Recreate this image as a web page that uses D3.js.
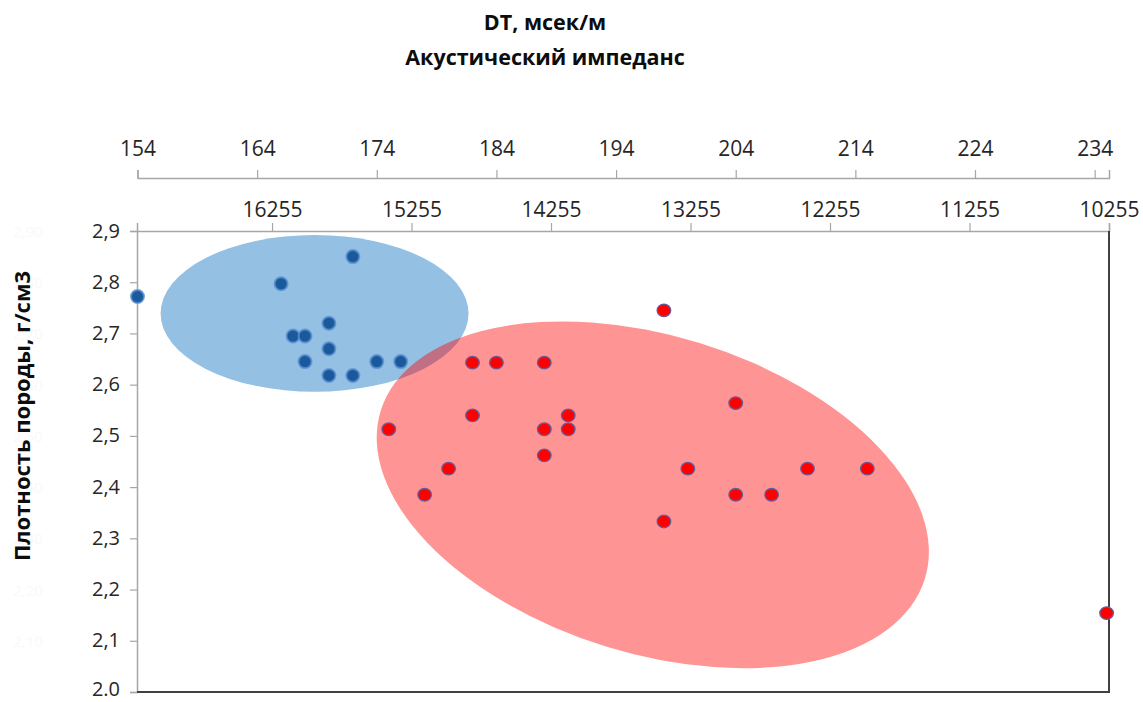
<!DOCTYPE html>
<html>
<head>
<meta charset="utf-8">
<script src="https://cdn.jsdelivr.net/npm/d3@7"></script>
<style>
  html, body { margin: 0; padding: 0; background: #ffffff; }
  svg { display: block; }
  text { font-family: "Open Sans", "DejaVu Sans", sans-serif; }
</style>
</head>
<body>
<svg id="chart" width="1143" height="702"></svg>
<script>
// ---------- data ----------
const dtTicks = [154, 164, 174, 184, 194, 204, 214, 224, 234];
const impTicks = [16255, 15255, 14255, 13255, 12255, 11255, 10255];
const yTicks = [2.0, 2.1, 2.2, 2.3, 2.4, 2.5, 2.6, 2.7, 2.8, 2.9];
const yTickLabels = ["2.0", "2,1", "2,2", "2,3", "2,4", "2,5", "2,6", "2,7", "2,8", "2,9"];
const ghostLabels = ["2,00", "2,10", "2,20", "2,30", "2,40", "2,50", "2,60", "2,70", "2,80", "2,90"];

const blueDT  = [154, 166, 172, 170, 167, 168, 170, 168, 174, 176, 170, 172];
const blueRho = [2.772, 2.797, 2.850, 2.720, 2.695, 2.695, 2.670, 2.645, 2.645, 2.645, 2.618, 2.618];

const redDT  = [198, 182, 184, 188, 182, 190, 175, 188, 190, 204, 188, 180, 200, 210, 215, 178, 204, 207, 198, 235];
const redRho = [2.745, 2.643, 2.643, 2.643, 2.540, 2.540, 2.513, 2.513, 2.513, 2.564, 2.462, 2.436, 2.436, 2.436, 2.436, 2.385, 2.385, 2.385, 2.333, 2.154];

// cluster ellipses (centre in data units, semi-axes in data units)
const blueEllipse = { dt: 168.8, rho: 2.739, aDT: 12.87, bRho: 0.153, angle: 0 };
const redEllipse  = { dt: 197.07, rho: 2.385, aDT: 23.8, bRho: 0.31, angle: 17.15 };

const titleLines = ["DT, мсек/м", "Акустический импеданс"];
const yTitle = "Плотность породы, г/см3";

// ---------- layout ----------
const svg = d3.select("#chart");
const L = 137, R = 1109, T = 231, B = 692;
const dtAxisY = 178;

const x = d3.scaleLinear().domain([154, 235.2]).range([137.5, R]);
const xImp = d3.scaleLinear().domain([17223, 10255]).range([L, R]);
const y = d3.scaleLinear().domain([2.0, 2.9]).range([B, T]);

// ---------- ellipses ----------
function drawEllipse(e, fill, opacity) {
  const cx = x(e.dt), cy = y(e.rho);
  const rx = x(e.dt + e.aDT) - x(e.dt);
  const ry = y(e.rho) - y(e.rho + e.bRho);
  svg.append("ellipse")
    .attr("cx", cx).attr("cy", cy)
    .attr("rx", rx).attr("ry", ry)
    .attr("transform", `rotate(${e.angle},${cx},${cy})`)
    .attr("fill", fill)
    .attr("fill-opacity", opacity);
}
drawEllipse(blueEllipse, "#93c0e3", 1);
drawEllipse(redEllipse, "#ff0000", 0.42);

// ---------- axes ----------
// left y axis
const yAxis = d3.axisLeft(y).tickValues(yTicks).tickSize(7).tickPadding(10)
  .tickFormat((d, i) => yTickLabels[i]);
const gy = svg.append("g").attr("transform", `translate(${L},0)`).call(yAxis);
gy.select(".domain").attr("stroke", "#a6a6a6").attr("stroke-width", 1.5);
gy.selectAll(".tick line").attr("stroke", "#a6a6a6").attr("stroke-width", 1.2);
gy.selectAll(".tick text").attr("fill", "#262626").style("font-size", "20px")
  .attr("dy", (d, i) => i === 0 ? "0.18em" : "0.3em")
  .style("font-family", "'Open Sans', sans-serif");

// impedance axis (top of plot)
const impAxis = d3.axisTop(xImp).tickValues(impTicks).tickSize(8).tickPadding(6)
  .tickFormat(d => String(d));
const gi = svg.append("g").attr("transform", `translate(0,${T})`).call(impAxis);
gi.select(".domain").attr("stroke", "#a6a6a6").attr("stroke-width", 1.5);
gi.selectAll(".tick line").attr("stroke", "#a6a6a6").attr("stroke-width", 1.2);
gi.selectAll(".tick text").attr("fill", "#262626").style("font-size", "21px")
  .style("font-family", "'Open Sans', sans-serif");

// DT axis (above)
const dtAxis = d3.axisTop(x).tickValues(dtTicks).tickSize(8).tickPadding(14)
  .tickFormat(d => String(d));
const gd = svg.append("g").attr("transform", `translate(0,${dtAxisY})`).call(dtAxis);
gd.select(".domain").attr("stroke", "#a6a6a6").attr("stroke-width", 1.5);
gd.selectAll(".tick line").attr("stroke", "#a6a6a6").attr("stroke-width", 1.2);
gd.selectAll(".tick text").attr("fill", "#262626").style("font-size", "21px")
  .style("font-family", "'Open Sans', sans-serif");

// bottom and right frame lines
svg.append("line").attr("x1", L).attr("x2", R + 1).attr("y1", B).attr("y2", B)
  .attr("stroke", "#404040").attr("stroke-width", 2);
svg.append("line").attr("x1", R).attr("x2", R).attr("y1", T).attr("y2", B)
  .attr("stroke", "#404040").attr("stroke-width", 2);

// faint ghost labels at far left
svg.append("g").selectAll("text").data(yTicks.slice(1)).join("text")
  .attr("x", 28).attr("y", d => y(d) + 6)
  .attr("text-anchor", "middle")
  .attr("fill", "#f9f9f9")
  .style("font-size", "15px")
  .text((d, i) => ghostLabels[i + 1]);

// ---------- points ----------
const blue = blueDT.map((d, i) => ({ dt: d, rho: blueRho[i] }));
const red = redDT.map((d, i) => ({ dt: d, rho: redRho[i] }));

svg.append("g").selectAll("circle").data(blue).join("circle")
  .attr("cx", d => x(d.dt)).attr("cy", d => y(d.rho)).attr("r", 6.5)
  .attr("fill", "#1a5a9c")
  .attr("stroke", "#5a8fcf").attr("stroke-width", 2).attr("stroke-opacity", 0.8);

svg.append("g").selectAll("ellipse").data(red).join("ellipse")
  .attr("cx", d => x(d.dt)).attr("cy", d => y(d.rho)).attr("rx", 6.8).attr("ry", 6.3)
  .attr("fill", "#ff0000")
  .attr("stroke", "#6a5a9a").attr("stroke-width", 1.3);

// ---------- titles ----------
svg.append("text").attr("x", 545).attr("y", 30).attr("text-anchor", "middle")
  .attr("fill", "#0d0d0d").style("font-size", "21.5px").style("font-weight", "bold")
  .text(titleLines[0]);
svg.append("text").attr("x", 545).attr("y", 65).attr("text-anchor", "middle")
  .attr("fill", "#0d0d0d").style("font-size", "21.5px").style("font-weight", "bold")
  .text(titleLines[1]);

svg.append("text")
  .attr("transform", "translate(30,416) rotate(-90)")
  .attr("text-anchor", "middle")
  .attr("fill", "#0d0d0d").style("font-size", "22px").style("font-weight", "bold")
  .text(yTitle);
</script>
</body>
</html>
